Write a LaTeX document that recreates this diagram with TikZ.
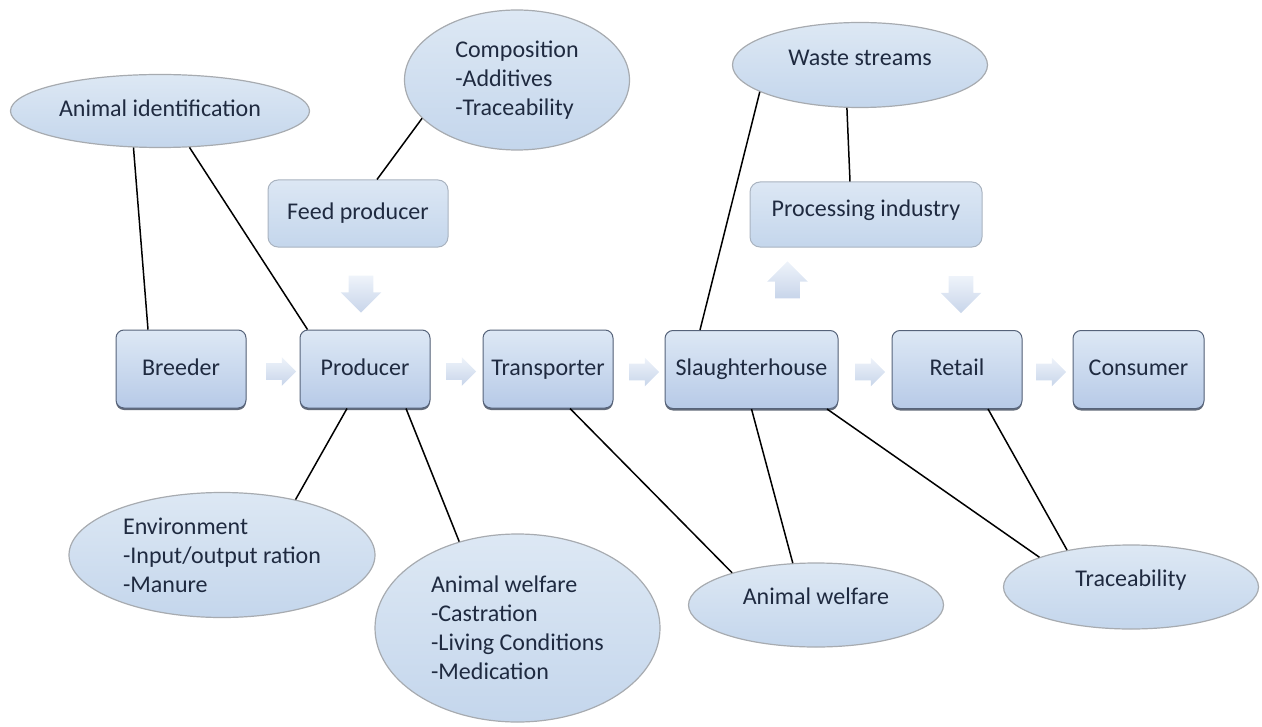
\documentclass[tikz,border=0pt]{standalone}
\usepackage{fontspec}
\setmainfont{Carlito}
\usetikzlibrary{shapes.geometric,shapes.arrows,shadows}
\definecolor{txt}{HTML}{1F2A40}
\definecolor{boxtop}{HTML}{DDE8F5}
\definecolor{boxbot}{HTML}{B7CAE7}
\definecolor{boxline}{HTML}{56637A}
\definecolor{sbtop}{HTML}{DCE7F4}
\definecolor{sbbot}{HTML}{C4D6EC}
\definecolor{sbline}{HTML}{A9B3C0}
\definecolor{eltop}{HTML}{DDE8F4}
\definecolor{elbot}{HTML}{C4D6EC}
\definecolor{elline}{HTML}{A7ABB0}
\definecolor{artop}{HTML}{EEF3FA}
\definecolor{arbot}{HTML}{C8D5EA}
\definecolor{shad}{HTML}{3C4658}
\begin{document}
\begin{tikzpicture}[x=0.5pt,y=-0.5pt,
 every node/.style={font=\fontsize{12}{14.5}\selectfont, text=txt, inner sep=0pt},
 oneline/.style={text height=8.5pt, text depth=2.5pt},
 mainbox/.style={rectangle, rounded corners=4pt, draw=boxline, line width=0.5pt, oneline,
   top color=boxtop, bottom color=boxbot, minimum width=65pt, minimum height=39pt,
   drop shadow={shadow xshift=0pt, shadow yshift=-1pt, fill=shad, opacity=0.8}},
 subbox/.style={rectangle, rounded corners=5pt, draw=sbline, line width=0.5pt,
   top color=sbtop, bottom color=sbbot},
 bubble/.style={ellipse, draw=elline, line width=0.6pt, top color=eltop, bottom color=elbot, align=left},
 harrow/.style={single arrow, single arrow head extend=3pt, minimum height=15pt,
   inner xsep=0pt, inner ysep=4pt, draw=none, top color=artop, bottom color=arbot},
 varrow/.style={single arrow, single arrow head extend=4pt, minimum height=18.5pt,
   inner xsep=6pt, inner ysep=0pt, draw=none, top color=artop, bottom color=arbot},
 conn/.style={draw=black, line width=0.75pt}]
\useasboundingbox (0,0) rectangle (1262,727);
% main chain
\node[mainbox] (breeder) at (181,369) {Breeder};
\node[mainbox] (producer) at (365,369) {Producer};
\node[mainbox] (transporter) at (548,369) {Transporter};
\node[mainbox, minimum width=86.5pt] (slaughter) at (751.5,369.5) {Slaughterhouse};
\node[mainbox] (retail) at (957,369.5) {Retail};
\node[mainbox, minimum width=65.5pt] (consumer) at (1138.5,369.5) {Consumer};
% side boxes
\node[subbox, oneline, minimum width=90pt, minimum height=33.5pt] (feed) at (358,213.5) {Feed producer};
\node[subbox, text height=8.5pt, text depth=6.5pt, minimum width=116pt, minimum height=32.5pt] (processing) at (866,214.5) {Processing industry};
% block arrows
\node[harrow] (a1) at (277,371.5) {};
\node[harrow] (a2) at (457,371.5) {};
\node[harrow] (a3) at (640,372) {};
\node[harrow] (a4) at (866,372) {};
\node[harrow] (a5) at (1047,372) {};
\node[varrow, shape border rotate=270] (a6) at (361,288) {};
\node[varrow, shape border rotate=90] (a7) at (787.5,286) {};
\node[varrow, shape border rotate=270] (a8) at (961,288.5) {};
% ellipses
\node[bubble, oneline, minimum width=149.5pt, minimum height=36.5pt] (animalid) at (160,111) {Animal identification};
\node[bubble, minimum width=112.5pt, minimum height=70pt] (composition) at (517,80) {Composition\\-Additives\\-Traceability};
\node[bubble, text height=8.5pt, text depth=7.5pt, minimum width=127.5pt, minimum height=42.5pt] (waste) at (860,65) {Waste streams};
\node[bubble, minimum width=153pt, minimum height=62.5pt] (environment) at (222,555) {Environment\\-Input/output ration\\-Manure};
\node[bubble, minimum width=142.5pt, minimum height=94pt] (welfareA) at (517.5,628) {Animal welfare\\-Castration\\-Living Conditions\\-Medication};
\node[bubble, text height=8.5pt, text depth=9.5pt, minimum width=127.5pt, minimum height=42pt] (welfareB) at (816,605) {Animal welfare};
\node[bubble, text height=8.5pt, text depth=9.5pt, minimum width=127.5pt, minimum height=42pt] (trace) at (1131,587) {Traceability};
% connectors
\draw[conn] ([xshift=-16.5pt]breeder.north) -- (animalid.234);
\draw[conn] ([xshift=4pt]producer.north west) -- (animalid.309);
\draw[conn] ([xshift=9.5pt]feed.north) -- (composition.202);
\draw[conn] ([xshift=-25.75pt]slaughter.north) -- (waste.195);
\draw[conn] ([xshift=-8pt]processing.north) -- (waste.253);
\draw[conn] ([xshift=-9pt]producer.south) -- (environment.37);
\draw[conn] ([xshift=20.5pt]producer.south) -- (welfareA.124);
\draw[conn] ([xshift=11pt]transporter.south) -- (welfareB.159);
\draw[conn] (slaughter.south) -- (welfareB.119);
\draw[conn] ([xshift=37.75pt]slaughter.south) -- (trace.162);
\draw[conn] ([xshift=15.5pt]retail.south) -- (trace.150);
\end{tikzpicture}
\end{document}
